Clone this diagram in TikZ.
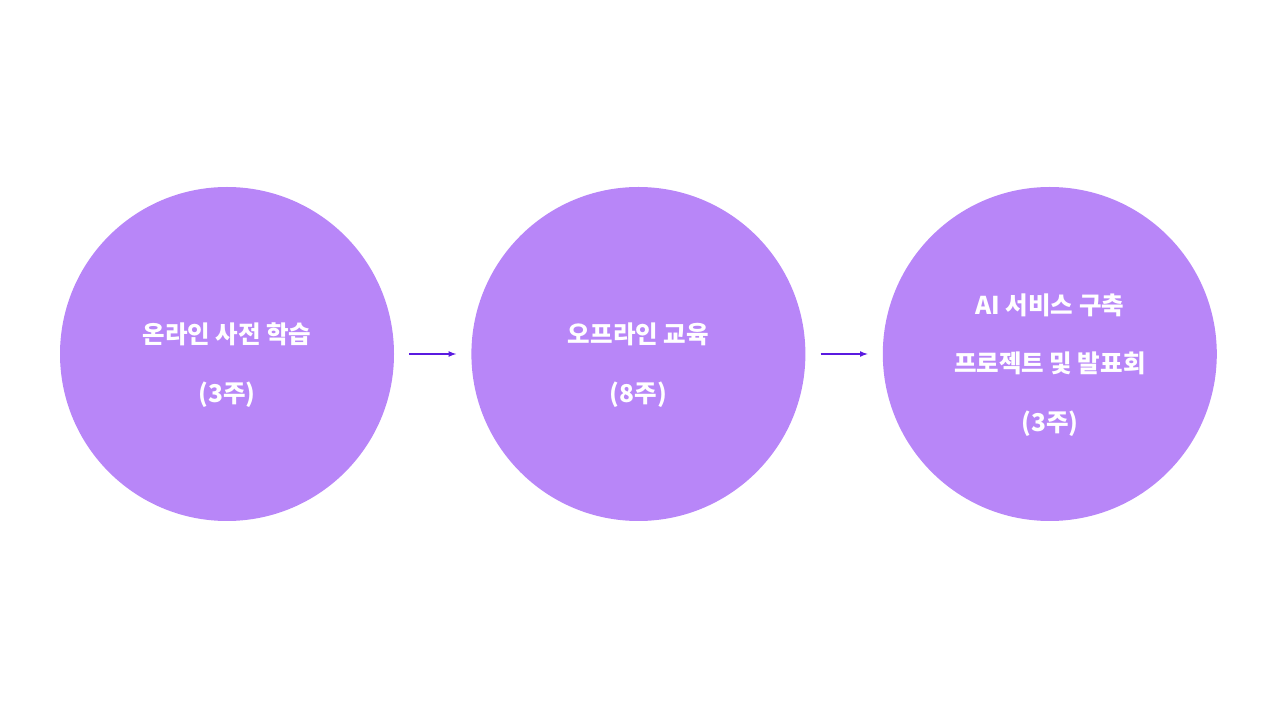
\documentclass[tikz,border=0pt]{standalone}
\usepackage{fontspec}
\setmainfont{Noto Sans CJK KR}
\usetikzlibrary{positioning}
\definecolor{stagefill}{HTML}{B886F8}
\definecolor{flowline}{HTML}{5A1AE0}
\tikzset{
    stage/.style={circle, fill=stagefill, minimum size=334pt, inner sep=0pt},
    stagetext/.style={text=white, font=\bfseries\fontsize{24.5pt}{58.5pt}\selectfont, align=center},
    flow/.style={-latex, flowline, line width=1.6pt, shorten <=15pt, shorten >=15pt}
}
\begin{document}
\begin{tikzpicture}[x=1pt, y=1pt]
    \useasboundingbox (0,0) rectangle (1280,710);

    % three stages of the course
    \node[stage] (online) at (227,356) {};
    \node[stage, right=77pt of online] (offline) {};
    \node[stage, right=77pt of offline] (project) {};

    \node[stagetext] (onlinetext) at ([yshift=-11pt]online.center) {온라인 사전 학습\\(3주)};
    \node[stagetext] (offlinetext) at ([yshift=-11pt]offline.center) {오프라인 교육\\(8주)};
    \node[stagetext] (projecttext) at ([yshift=-11pt]project.center) {AI 서비스 구축\\프로젝트 및 발표회\\(3주)};

    % arrows between stages
    \draw[flow] (online) -- (offline);
    \draw[flow] (offline) -- (project);

\end{tikzpicture}
\end{document}
